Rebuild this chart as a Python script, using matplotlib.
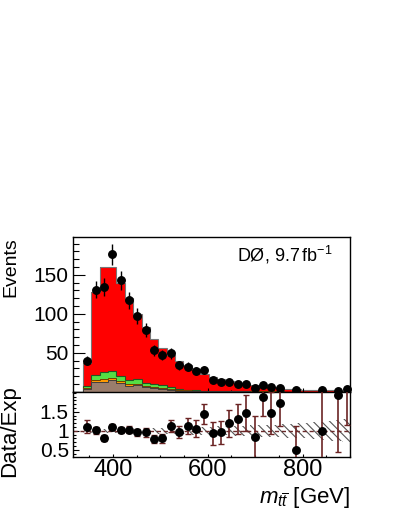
import numpy as np
import matplotlib
matplotlib.use("Agg")
import matplotlib.pyplot as plt
from matplotlib.ticker import MultipleLocator, FixedLocator

plt.rcParams['font.family'] = ['Liberation Sans', 'DejaVu Sans']
plt.rcParams['mathtext.fontset'] = 'custom'
plt.rcParams['mathtext.rm'] = 'Liberation Sans'
plt.rcParams['mathtext.it'] = 'Liberation Sans:italic'
plt.rcParams['hatch.color'] = '#555555'
plt.rcParams['hatch.linewidth'] = 0.8

# ---- data ----
bin_start = 337.0
bin_width = 17.65
n_bins = 32

data_counts = [40, 131, 134, 176, 143, 117, 97, 79, 53, 47, 49, 34, 32, 26, 28, 15,
               13, 13, 10, 10, 5, 8, 6, 5, np.nan, 2, np.nan, np.nan, 2, np.nan, 1.5, 4]

total_exp = [37, 128, 160, 160, 140, 120, 100, 83, 68, 56, 47, 40, 34, 29, 23, 19,
             16, 14, 11.5, 10, 8, 6.5, 5.5, 4.5, 3.8, 3.2, 2.7, 2.3, 2.0, 1.7, 1.4, 1.2]
bkg_brown = [4, 12, 13, 15, 11, 7.5, 8.5, 5.5, 4.5, 3.5, 2.5, 1.5, 1.2, 1.0, 0.8, 0.6,
             0.5, 0.4, 0.3, 0.3, 0.2, 0.2, 0.2, 0.1, 0.1, 0.1, 0.1, 0.1, 0.1, 0.1, 0.1, 0.1]
bkg_orange = [1, 3, 3, 3, 2.5, 2, 2, 1.8, 1.2, 1, 0.8, 0.5, 0.4, 0.3, 0.2, 0.2,
              0.1, 0.1, 0.1, 0.1, 0.1, 0.1, 0.1, 0.1, 0.0, 0.0, 0.0, 0.0, 0.0, 0.0, 0.0, 0.0]
bkg_green = [2, 6.5, 9.5, 9, 6.5, 5.5, 6, 4.2, 4.3, 4, 2.2, 1.0, 0.8, 0.7, 0.5, 0.4,
             0.3, 0.3, 0.2, 0.2, 0.2, 0.1, 0.1, 0.1, 0.1, 0.1, 0.1, 0.1, 0.1, 0.1, 0.1, 0.1]

ratio = [1.11, 1.01, 0.82, 1.11, 1.03, 1.03, 0.96, 0.96, 0.79, 0.81, 1.13, 0.96, 1.13,
         1.06, 1.44, 0.94, 0.96, 1.20, 1.31, 1.47, 0.83, 1.90, 1.47, 1.73, np.nan, 0.50,
         np.nan, np.nan, 1.00, np.nan, 1.95, 2.60]
ratio_err = [0.17, 0.09, 0.08, 0.08, 0.08, 0.09, 0.10, 0.11, 0.11, 0.12, 0.16, 0.16, 0.20,
             0.22, 0.26, 0.30, 0.30, 0.35, 0.40, 0.48, 0.57, 0.50, 0.55, 0.60, np.nan, 0.62,
             np.nan, np.nan, 1.20, np.nan, 1.50, 1.45]
syst_band = [0.05, 0.05, 0.05, 0.05, 0.05, 0.05, 0.06, 0.06, 0.07, 0.07, 0.08, 0.08, 0.09,
             0.10, 0.10, 0.11, 0.12, 0.12, 0.13, 0.14, 0.15, 0.15, 0.16, 0.17, 0.18, 0.20,
             0.20, 0.22, 0.24, 0.26, 0.28, 0.30]

# ---- derived ----
edges = bin_start + bin_width * np.arange(n_bins + 1)
centers = 0.5 * (edges[:-1] + edges[1:])
data_counts = np.array(data_counts, float)
total_exp = np.array(total_exp, float)
brown = np.array(bkg_brown, float)
orange = np.array(bkg_orange, float)
green = np.array(bkg_green, float)
ratio = np.array(ratio, float)
ratio_err = np.array(ratio_err, float)
syst = np.array(syst_band, float)

W, H = 399.0, 516.0
fig = plt.figure(figsize=(W / 100, H / 100), dpi=100)
x0, x1 = 73.0, 350.0
ytop, ymid, ybot = 237.3, 391.7, 456.7
ax = fig.add_axes([x0 / W, (H - ymid) / H, (x1 - x0) / W, (ymid - ytop) / H])
axr = fig.add_axes([x0 / W, (H - ybot) / H, (x1 - x0) / W, (ybot - ymid) / H], sharex=ax)
for a in (ax, axr):
    for s in a.spines.values():
        s.set_linewidth(1.0)

# stacked histogram
c1 = brown
c2 = brown + orange
c3 = c2 + green
ax.stairs(total_exp, edges, fill=True, color='#ff0000', zorder=1)
ax.stairs(total_exp, edges, color='#777777', lw=0.8, zorder=1.5)
ax.stairs(c3, edges, fill=True, color='#55dd44', zorder=2)
ax.stairs(c3, edges, color='#225522', lw=0.8, zorder=2.5)
ax.stairs(c2, edges, fill=True, color='#ff9900', zorder=3)
ax.stairs(c2, edges, color='#553300', lw=0.6, zorder=3.5)
ax.stairs(c1, edges, fill=True, color='#9a7d6c', zorder=4)
ax.stairs(c1, edges, color='#333333', lw=0.6, zorder=4.5)

ax.errorbar(centers, data_counts, yerr=np.sqrt(data_counts), fmt='o', color='black',
            ms=5.4, lw=1.0, capsize=0, zorder=10, clip_on=False)

ax.set_xlim(316, 900)
ax.set_ylim(0, 198)
ax.yaxis.set_major_locator(FixedLocator([50, 100, 150]))
ax.yaxis.set_minor_locator(MultipleLocator(10))
ax.xaxis.set_major_locator(MultipleLocator(200))
ax.xaxis.set_minor_locator(MultipleLocator(50))
ax.tick_params(axis='both', which='both', direction='in', top=False, right=False, width=0.8)
ax.tick_params(axis='y', which='major', length=8.5, labelsize=15, pad=3)
ax.tick_params(axis='y', which='minor', length=4.3)
ax.tick_params(axis='x', which='major', length=3.0)
ax.tick_params(axis='x', which='minor', length=1.5)
ax.tick_params(axis='x', labelbottom=False)
ax.text(0.935, 0.885, 'DØ, 9.7$\\,$fb$^{-1}$', transform=ax.transAxes, ha='right',
        va='center', fontsize=13)

# ratio panel
axr.fill_between(edges, np.r_[1 - syst, 1 - syst[-1]], np.r_[1 + syst, 1 + syst[-1]],
                 step='post', facecolor='none', edgecolor='#555555', hatch='\\\\\\\\',
                 lw=0, zorder=1)
axr.axhline(1.0, color='#6b2a2a', ls=(0, (3, 2)), lw=1.0, zorder=2)
axr.errorbar(centers, ratio, yerr=ratio_err, fmt='none', ecolor='#6b2424', lw=1.2,
             capsize=2, capthick=1.0, zorder=3)
ylo_r, yhi_r = 0.32, 2.03
shown = np.where(ratio <= yhi_r, ratio, np.nan)
axr.plot(centers, shown, 'o', color='black', ms=5.4, zorder=10, clip_on=False)
axr.set_ylim(ylo_r, yhi_r)
axr.yaxis.set_major_locator(FixedLocator([0.5, 1.0, 1.5]))
axr.yaxis.set_minor_locator(MultipleLocator(0.1))
axr.set_yticklabels(['0.5', '1', '1.5'])
axr.tick_params(axis='both', which='both', direction='in', top=False, right=False, width=0.8)
axr.tick_params(axis='y', which='major', length=4.3, labelsize=15, pad=3)
axr.tick_params(axis='y', which='minor', length=2.2)
axr.tick_params(axis='x', which='major', length=2.5, labelsize=17, pad=1.5)
axr.tick_params(axis='x', which='minor', length=1.2)

# axis titles
fig.text(11 / W, 1 - ytop / H, 'Events', rotation=90, ha='center', va='top', fontsize=14)
fig.text(10 / W, 1 - 385 / H, 'Data/Exp', rotation=90, ha='center', va='top', fontsize=16)
fig.text(x1 / W, 1 - 498 / H, '$m_{t\\overline{t}}$ [GeV]', ha='right', va='center',
         fontsize=16)

fig.savefig('out.png', dpi=100)
